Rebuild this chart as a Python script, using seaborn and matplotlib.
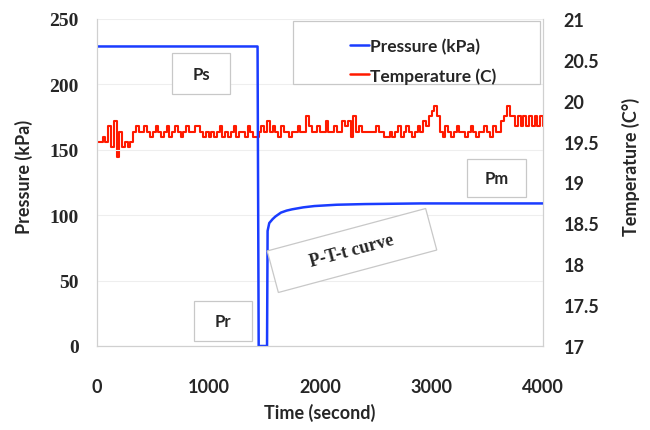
import matplotlib
matplotlib.use("Agg")
import matplotlib.pyplot as plt
import matplotlib.patches as mpatches
from matplotlib.transforms import IdentityTransform
from matplotlib.lines import Line2D
import seaborn as sns

# pressure trace (kPa) vs time (s)
p_time = [0, 1440, 1450, 1525, 1530, 1545, 1575, 1600, 1650, 1700, 1750, 1850, 1950, 2150, 2400, 2900, 4000]
p_vals = [229, 229, 0, 0, 88, 94, 97, 99, 102, 103.5, 104.5, 106, 107, 108, 108.5, 109, 109]

# temperature (C), one reading every 25 s
t_time = list(range(0, 4001, 25))
t_vals = [
    19.5, 19.5, 19.56, 19.5, 19.69, 19.44, 19.75, 19.31, 19.62, 19.44,
    19.5, 19.44, 19.5, 19.62, 19.69, 19.62, 19.62, 19.69, 19.62, 19.56,
    19.62, 19.69, 19.62, 19.56, 19.62, 19.69, 19.56, 19.62, 19.69, 19.62,
    19.56, 19.62, 19.69, 19.62, 19.62, 19.69, 19.69, 19.62, 19.56, 19.62,
    19.56, 19.62, 19.56, 19.62, 19.69, 19.56, 19.62, 19.56, 19.62, 19.69,
    19.56, 19.62, 19.62, 19.56, 19.69, 19.62, 19.56, 19.56, 19.62, 19.69,
    19.62, 19.75, 19.62, 19.69, 19.62, 19.56, 19.69, 19.62, 19.62, 19.56,
    19.62, 19.62, 19.69, 19.62, 19.62, 19.81, 19.69, 19.62, 19.62, 19.69,
    19.62, 19.62, 19.75, 19.62, 19.62, 19.69, 19.62, 19.62, 19.75, 19.69,
    19.75, 19.56, 19.81, 19.62, 19.69, 19.62, 19.62, 19.62, 19.62, 19.62,
    19.69, 19.62, 19.62, 19.56, 19.56, 19.62, 19.56, 19.62, 19.69, 19.56,
    19.62, 19.69, 19.62, 19.56, 19.62, 19.69, 19.62, 19.75, 19.69, 19.81,
    19.88, 19.94, 19.81, 19.62, 19.56, 19.69, 19.62, 19.56, 19.62, 19.69,
    19.62, 19.62, 19.56, 19.62, 19.69, 19.62, 19.56, 19.62, 19.62, 19.69,
    19.62, 19.56, 19.69, 19.62, 19.62, 19.75, 19.81, 19.94, 19.81, 19.81,
    19.69, 19.81, 19.69, 19.81, 19.69, 19.81, 19.69, 19.81, 19.69, 19.81,
    19.69,
]

x_ticks = [0, 1000, 2000, 3000, 4000]
p_ticks = [0, 50, 100, 150, 200, 250]
t_ticks = [17, 17.5, 18, 18.5, 19, 19.5, 20, 20.5, 21]

sns.set_style("white")
sans = ["Lato", "DejaVu Sans"]
serif = ["Liberation Serif", "DejaVu Serif"]
blue = "#1a3cff"
red = "#ff1a00"
edge = "#c8c8c8"

W, H = 650, 431
fig = plt.figure(figsize=(6.5, 4.31), dpi=100)
ax = fig.add_axes([97 / W, 84 / H, 446 / W, 327 / H])
ax2 = ax.twinx()

sns.lineplot(x=t_time, y=t_vals, ax=ax2, color=red, linewidth=1.5, drawstyle="steps-post")
sns.lineplot(x=p_time, y=p_vals, ax=ax, color=blue, linewidth=1.8)

ax.set_zorder(ax2.get_zorder() + 1)
ax.patch.set_visible(False)

ax.set_xlim(0, 4000)
ax.set_ylim(0, 250)
ax2.set_ylim(17, 21)
ax.set_xticks(x_ticks)
ax.set_yticks(p_ticks)
ax2.set_yticks(t_ticks)
ax.set_xticklabels([str(v) for v in x_ticks], fontfamily=sans, fontweight="bold", fontsize=13)
ax.set_yticklabels([str(v) for v in p_ticks], fontfamily=serif, fontweight="bold", fontsize=14)
ax2.set_yticklabels([f"{v:g}" for v in t_ticks], fontfamily=sans, fontweight="bold", fontsize=13)
ax.tick_params(axis="x", length=3, color="#d0d0d0", pad=20)
ax.tick_params(axis="y", length=0, pad=13)
ax2.tick_params(axis="y", length=0, pad=15)

ax.yaxis.grid(True, color="#eeeeee", linewidth=0.8)
for a in (ax, ax2):
    a.spines["top"].set_visible(False)
    for s in ("left", "right", "bottom"):
        a.spines[s].set_color("#d0d0d0")
        a.spines[s].set_linewidth(0.8)

ax.set_xlabel("Time (second)", fontfamily=sans, fontweight="bold", fontsize=13)
ax.set_ylabel("Pressure (kPa)", fontfamily=sans, fontweight="bold", fontsize=13)
ax2.set_ylabel("Temperature (C°)", fontfamily=sans, fontweight="bold", fontsize=13)
ax.xaxis.set_label_coords(0.5, -0.175)
ax.yaxis.set_label_coords(-0.143, 0.52)
ax2.yaxis.set_label_coords(1.177, 0.55)


def box(x0, y0, x1, y1, text=None, family=sans, size=12, angle=0):
    # pixel coords, top-left origin
    w, h = x1 - x0, y1 - y0
    rect = mpatches.Rectangle((x0, H - y1), w, h, angle=angle, rotation_point="center",
                              transform=IdentityTransform(), facecolor="white",
                              edgecolor=edge, linewidth=0.9, zorder=5)
    fig.patches.append(rect)
    rect.set_figure(fig)
    if text:
        fig.text((x0 + x1) / 2 / W, 1 - (y0 + y1) / 2 / H, text, ha="center", va="center",
                 fontfamily=family, fontweight="bold", fontsize=size, rotation=angle, zorder=6)


box(172, 54, 230, 95, "Ps")
box(467, 160, 526, 198, "Pm")
box(194, 302, 252, 342, "Pr")
box(270, 230, 434, 273, "P-T-t curve", family=serif, size=13, angle=15)

# legend frame and entries
box(293, 22, 540, 85)
handles = [Line2D([], [], color=blue, linewidth=1.8), Line2D([], [], color=red, linewidth=1.8)]
leg = fig.legend(handles, ["Pressure (kPa)", "Temperature (C)"], loc="upper left",
                 bbox_to_anchor=(334 / W, 1 - 23 / H), frameon=False,
                 prop={"family": sans, "weight": "bold", "size": 12.5},
                 handlelength=1.1, handletextpad=0.1, labelspacing=0.75)
leg.set_zorder(7)

fig.savefig("out.png", dpi=100)
